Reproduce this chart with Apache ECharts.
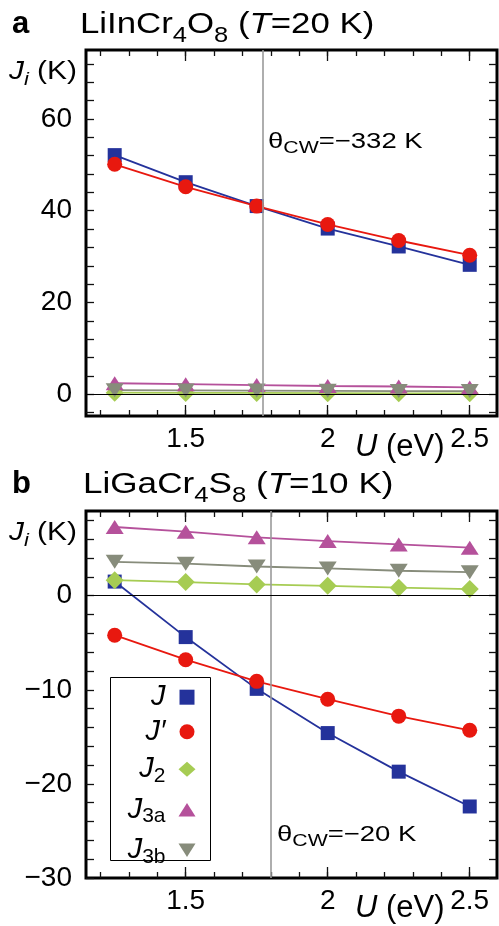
<!DOCTYPE html>
<html>
<head>
<meta charset="utf-8">
<script src="https://cdn.jsdelivr.net/npm/echarts@6/dist/echarts.min.js"></script>
<style>
  html, body { margin: 0; padding: 0; background: #fff; }
  #chart { width: 499px; height: 926px; }
</style>
</head>
<body>
<div id="chart"></div>
<script>
// Hubbard U values (eV) at which the exchange couplings were computed
const uValues = [1.25, 1.5, 1.75, 2.0, 2.25, 2.5];

// Panel a: LiInCr4O8, couplings in K
const inJ   = [52.1, 46.2, 41.0, 36.1, 32.2, 28.2];
const inJp  = [50.1, 45.2, 41.0, 37.0, 33.5, 30.3];
const inJ2  = [0.35, 0.3, 0.3, 0.25, 0.2, 0.2];
const inJ3a = [2.4, 2.2, 2.0, 1.8, 1.7, 1.5];
const inJ3b = [0.9, 0.85, 0.8, 0.75, 0.7, 0.7];

// Panel b: LiGaCr4S8, couplings in K
const gaJ   = [1.5, -4.4, -9.9, -14.6, -18.7, -22.4];
const gaJp  = [-4.2, -6.8, -9.1, -11.0, -12.8, -14.3];
const gaJ2  = [1.65, 1.45, 1.2, 1.05, 0.85, 0.7];
const gaJ3a = [7.3, 6.8, 6.2, 5.8, 5.45, 5.1];
const gaJ3b = [3.6, 3.4, 3.1, 2.9, 2.65, 2.5];

// U at which the Curie-Weiss temperature is reproduced
const thetaUa = 1.77;
const thetaUb = 1.8;

// Tick positions and labels
const xMajorTicks = [1.5, 2.0, 2.5];
const xMinorTicks = [1.2, 1.3, 1.4, 1.5, 1.6, 1.7, 1.8, 1.9, 2.0, 2.1, 2.2, 2.3, 2.4, 2.5];
const yTicksA  = [-4, 0, 4, 8, 12, 16, 20, 24, 28, 32, 36, 40, 44, 48, 52, 56, 60, 64, 68, 72];
const yLabelsA = [0, 20, 40, 60];
const yTicksB  = [-30, -28, -26, -24, -22, -20, -18, -16, -14, -12, -10, -8, -6, -4, -2, 0, 2, 4, 6, 8];
const yLabelsB = [-30, -20, -10, 0];

const FONT = '"Liberation Sans", Arial, Helvetica, sans-serif';
const X_MIN = 1.149, X_MAX = 2.596;

const seriesStyle = {
  'J':   { color: '#24329b', symbol: 'rect', symbolSize: 14 },
  'J′':  { color: '#e8180f', symbol: 'circle', symbolSize: 15 },
  'J2':  { color: '#a6cc53', symbol: 'diamond', symbolSize: [18, 18] },
  'J3a': { color: '#b5519b', symbol: 'triangle', symbolSize: [18, 14] },
  'J3b': { color: '#878c7b', symbol: 'triangle', symbolSize: [18, 14], symbolRotate: 180 }
};

const tickLine = { color: '#111', width: 1.3 };
const minusFmt = v => (v < 0 ? '\u2212' + Math.abs(v) : String(v));

function xAxesFor(gi) {
  const base = {
    type: 'value', gridIndex: gi, min: X_MIN, max: X_MAX,
    axisLine: { show: false, onZero: false }, splitLine: { show: false }
  };
  return [
    Object.assign({}, base, { position: 'bottom',
      axisTick: { inside: true, length: 6, customValues: xMinorTicks, lineStyle: tickLine },
      axisLabel: { show: false } }),
    Object.assign({}, base, { position: 'bottom',
      axisTick: { inside: true, length: 11, customValues: xMajorTicks, lineStyle: tickLine },
      axisLabel: { show: true, customValues: xMajorTicks, margin: 9, fontSize: 28,
                   color: '#000', fontFamily: FONT, formatter: v => String(v) } }),
    Object.assign({}, base, { position: 'top',
      axisTick: { inside: true, length: 6, customValues: xMinorTicks, lineStyle: tickLine },
      axisLabel: { show: false } }),
    Object.assign({}, base, { position: 'top',
      axisTick: { inside: true, length: 11, customValues: xMajorTicks, lineStyle: tickLine },
      axisLabel: { show: false } })
  ];
}

function yAxesFor(gi, min, max, ticks, labels) {
  const base = {
    type: 'value', gridIndex: gi, min: min, max: max,
    axisLine: { show: false, onZero: false }, splitLine: { show: false },
    axisTick: { inside: true, length: 8, customValues: ticks, lineStyle: tickLine }
  };
  return [
    Object.assign({}, base, { position: 'left',
      axisLabel: { customValues: labels, margin: 14, fontSize: 28, color: '#000',
                   fontFamily: FONT, formatter: minusFmt } }),
    Object.assign({}, base, { position: 'right', axisLabel: { show: false } })
  ];
}

function lineSeries(gi, name, values, extra) {
  const st = seriesStyle[name];
  const s = {
    type: 'line', name: name,
    xAxisIndex: gi * 4, yAxisIndex: gi * 2,
    data: uValues.map((u, i) => [u, values[i]]),
    symbol: st.symbol, symbolSize: st.symbolSize, symbolRotate: st.symbolRotate || 0,
    showAllSymbol: true,
    itemStyle: { color: st.color, opacity: 1 },
    lineStyle: { color: st.color, width: 1.8 },
    emphasis: { disabled: true },
    animation: false
  };
  return Object.assign(s, extra || {});
}

function guideLines(thetaU) {
  return {
    silent: true, symbol: 'none', label: { show: false },
    emphasis: { disabled: true }, animation: false,
    data: [
      { xAxis: thetaU, lineStyle: { color: '#9a9a9a', width: 1.6, type: 'solid' } },
      { yAxis: 0, lineStyle: { color: '#000', width: 1, type: 'solid' } }
    ]
  };
}

const legendText = {
  'J': '{j|J}', 'J′': '{j|J′}', 'J2': '{j|J}{s|2}', 'J3a': '{j|J}{s|3a}', 'J3b': '{j|J}{s|3b}'
};

const titleRich = {
  m:   { fontSize: 30, fontFamily: FONT, color: '#000', lineHeight: 38 },
  it:  { fontSize: 30, fontFamily: FONT, color: '#000', fontStyle: 'italic', lineHeight: 38 },
  sub: { fontSize: 22, fontFamily: FONT, color: '#000', lineHeight: 38, padding: [22, 0, 0, 0] }
};
const labelRich = {
  it:  { fontSize: 26, fontFamily: FONT, color: '#000', fontStyle: 'italic', lineHeight: 32 },
  m:   { fontSize: 26, fontFamily: FONT, color: '#000', lineHeight: 32 },
  sub: { fontSize: 19, fontFamily: FONT, color: '#000', fontStyle: 'italic', lineHeight: 32, padding: [16, 0, 0, 0] }
};
const unitRich = {
  it: { fontSize: 31, fontFamily: FONT, fontStyle: 'italic', color: '#000', lineHeight: 36 },
  m:  { fontSize: 31, fontFamily: FONT, color: '#000', lineHeight: 36 }
};
const thetaRich = {
  m:   { fontSize: 22, fontFamily: FONT, color: '#000', lineHeight: 28 },
  sub: { fontSize: 17, fontFamily: FONT, color: '#000', lineHeight: 28, padding: [12, 0, 0, 0] }
};

function textEl(x, y, text, rich, scaleX) {
  return {
    type: 'text', x: x, y: y, scaleX: scaleX || 1, silent: true,
    style: { text: text, rich: rich, verticalAlign: 'middle', align: 'left', fill: '#000' }
  };
}

const option = {
  backgroundColor: '#fff',
  animation: false,
  grid: [
    { left: 86, top: 50, width: 411, height: 366, show: true, borderColor: '#000', borderWidth: 3, backgroundColor: 'transparent' },
    { left: 86, top: 511, width: 411, height: 367, show: true, borderColor: '#000', borderWidth: 3, backgroundColor: 'transparent' }
  ],
  xAxis: xAxesFor(0).concat(xAxesFor(1)),
  yAxis: yAxesFor(0, -4.73, 75, yTicksA, yLabelsA).concat(yAxesFor(1, -30, 9, yTicksB, yLabelsB)),
  legend: {
    orient: 'vertical', right: 289, top: 677,
    align: 'right',
    itemWidth: 17, itemHeight: 15, itemGap: 5.5,
    padding: [5.7, 14.5, 5.3, 10],
    borderWidth: 0,
    selectedMode: false,
    data: [
      { name: 'J',   icon: 'path://M0,0H10V10H0Z' },
      { name: 'J′',  icon: 'circle' },
      { name: 'J2',  icon: 'diamond' },
      { name: 'J3a', icon: 'path://M5,0L10,8H0Z' },
      { name: 'J3b', icon: 'path://M0,0H10L5,8Z' }
    ],
    formatter: name => legendText[name] + '{g| }',
    textStyle: {
      rich: {
        j: { fontSize: 29, fontFamily: FONT, fontStyle: 'italic', color: '#000', lineHeight: 30 },
        s: { fontSize: 21, fontFamily: FONT, color: '#000', lineHeight: 30, padding: [14, 0, 0, 0] },
        g: { width: 8, fontSize: 10, lineHeight: 30 }
      }
    }
  },
  series: [
    lineSeries(0, 'J', inJ, { markLine: guideLines(thetaUa) }),
    lineSeries(0, 'J′', inJp),
    lineSeries(0, 'J2', inJ2),
    lineSeries(0, 'J3a', inJ3a),
    lineSeries(0, 'J3b', inJ3b),
    lineSeries(1, 'J', gaJ, { markLine: guideLines(thetaUb) }),
    lineSeries(1, 'J′', gaJp),
    lineSeries(1, 'J2', gaJ2),
    lineSeries(1, 'J3a', gaJ3a),
    lineSeries(1, 'J3b', gaJ3b)
  ],
  graphic: [
    // legend frame
    { type: 'rect', silent: true, z: 5,
      shape: { x: 110.5, y: 677.5, width: 100, height: 183 },
      style: { fill: 'none', stroke: '#000', lineWidth: 1 } },
    { type: 'text', x: 12, y: 24, silent: true,
      style: { text: 'a', font: 'bold 31px ' + FONT, fill: '#000', verticalAlign: 'middle' } },
    textEl(80, 25, '{m|LiInCr}{sub|4}{m|O}{sub|8}{m| (}{it|T}{m|=20 K)}', titleRich, 1.16),
    { type: 'text', x: 12, y: 484, silent: true,
      style: { text: 'b', font: 'bold 31px ' + FONT, fill: '#000', verticalAlign: 'middle' } },
    textEl(83, 485, '{m|LiGaCr}{sub|4}{m|S}{sub|8}{m| (}{it|T}{m|=10 K)}', titleRich, 1.17),
    textEl(9, 72, '{it|J}{sub|i}{m| (K)}', labelRich, 1.15),
    textEl(9, 533, '{it|J}{sub|i}{m| (K)}', labelRich, 1.15),
    textEl(355, 447, '{it|U}{m| (eV)}', unitRich, 1),
    textEl(355, 908, '{it|U}{m| (eV)}', unitRich, 1),
    textEl(268, 142, '{m|θ}{sub|CW}{m|=\u2212332 K}', thetaRich, 1.25),
    textEl(277, 835, '{m|θ}{sub|CW}{m|=\u221220 K}', thetaRich, 1.25)
  ]
};

const chart = echarts.init(document.getElementById('chart'), null, { renderer: 'canvas' });
chart.setOption(option);
</script>
</body>
</html>
